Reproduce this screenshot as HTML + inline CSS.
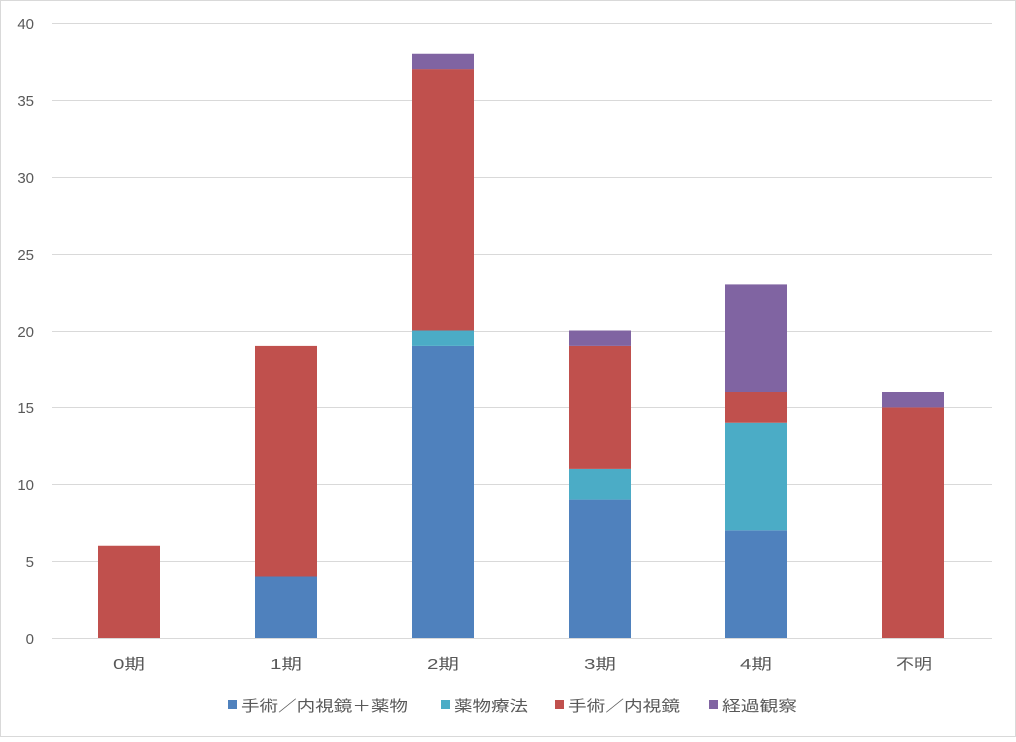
<!DOCTYPE html>
<html><head><meta charset="utf-8"><style>
body{margin:0;background:#fff}
text{font-family:"Liberation Sans","Noto Sans CJK JP",sans-serif;fill:#595959;font-size:15px}
</style></head><body>
<svg width="1016" height="737" xmlns="http://www.w3.org/2000/svg">
<rect x="0.5" y="0.5" width="1015" height="736" fill="#fff" stroke="#d9d9d9"/>
<g stroke="#d9d9d9" stroke-width="1">
<line x1="52" x2="992" y1="23.5" y2="23.5"/>
<line x1="52" x2="992" y1="100.5" y2="100.5"/>
<line x1="52" x2="992" y1="177.5" y2="177.5"/>
<line x1="52" x2="992" y1="254.5" y2="254.5"/>
<line x1="52" x2="992" y1="331.5" y2="331.5"/>
<line x1="52" x2="992" y1="407.5" y2="407.5"/>
<line x1="52" x2="992" y1="484.5" y2="484.5"/>
<line x1="52" x2="992" y1="561.5" y2="561.5"/>
<line x1="52" x2="992" y1="638.5" y2="638.5"/>
</g>
<g text-anchor="end">
<text x="34" y="29">40</text><text x="34" y="106">35</text><text x="34" y="183">30</text>
<text x="34" y="260">25</text><text x="34" y="337">20</text><text x="34" y="413">15</text>
<text x="34" y="490">10</text><text x="34" y="567">5</text><text x="34" y="644">0</text>
</g>
<rect x="98" y="545.75" width="62" height="92.25" fill="#C0504D"/>
<rect x="255" y="576.5" width="62" height="61.5" fill="#4F81BD"/>
<rect x="255" y="345.9" width="62" height="230.6" fill="#C0504D"/>
<rect x="412" y="345.9" width="62" height="292.1" fill="#4F81BD"/>
<rect x="412" y="330.5" width="62" height="15.4" fill="#4BACC6"/>
<rect x="412" y="69.1" width="62" height="261.4" fill="#C0504D"/>
<rect x="412" y="53.75" width="62" height="15.4" fill="#8064A2"/>
<rect x="569" y="499.6" width="62" height="138.4" fill="#4F81BD"/>
<rect x="569" y="468.9" width="62" height="30.7" fill="#4BACC6"/>
<rect x="569" y="345.9" width="62" height="123" fill="#C0504D"/>
<rect x="569" y="330.5" width="62" height="15.4" fill="#8064A2"/>
<rect x="725" y="530.4" width="62" height="107.6" fill="#4F81BD"/>
<rect x="725" y="422.75" width="62" height="107.6" fill="#4BACC6"/>
<rect x="725" y="392" width="62" height="30.75" fill="#C0504D"/>
<rect x="725" y="284.4" width="62" height="107.6" fill="#8064A2"/>
<rect x="882" y="407.4" width="62" height="230.6" fill="#C0504D"/>
<rect x="882" y="392" width="62" height="15.4" fill="#8064A2"/>
<g font-size="16">
<text x="113" y="669" textLength="32" lengthAdjust="spacingAndGlyphs">0期</text>
<text x="270" y="669" textLength="32" lengthAdjust="spacingAndGlyphs">1期</text>
<text x="427" y="669" textLength="32" lengthAdjust="spacingAndGlyphs">2期</text>
<text x="584" y="669" textLength="32" lengthAdjust="spacingAndGlyphs">3期</text>
<text x="740" y="669" textLength="32" lengthAdjust="spacingAndGlyphs">4期</text>
<text x="896" y="669" textLength="36" lengthAdjust="spacingAndGlyphs">不明</text>
</g>
<rect x="228" y="700" width="9" height="9" fill="#4F81BD"/><text x="241" y="711" textLength="167" lengthAdjust="spacingAndGlyphs">手術／内視鏡＋薬物</text>
<rect x="441" y="700" width="9" height="9" fill="#4BACC6"/><text x="454" y="711" textLength="74" lengthAdjust="spacingAndGlyphs">薬物療法</text>
<rect x="555" y="700" width="9" height="9" fill="#C0504D"/><text x="568" y="711" textLength="112" lengthAdjust="spacingAndGlyphs">手術／内視鏡</text>
<rect x="709" y="700" width="9" height="9" fill="#8064A2"/><text x="722" y="711" textLength="75" lengthAdjust="spacingAndGlyphs">経過観察</text>
</svg>
</body></html>
